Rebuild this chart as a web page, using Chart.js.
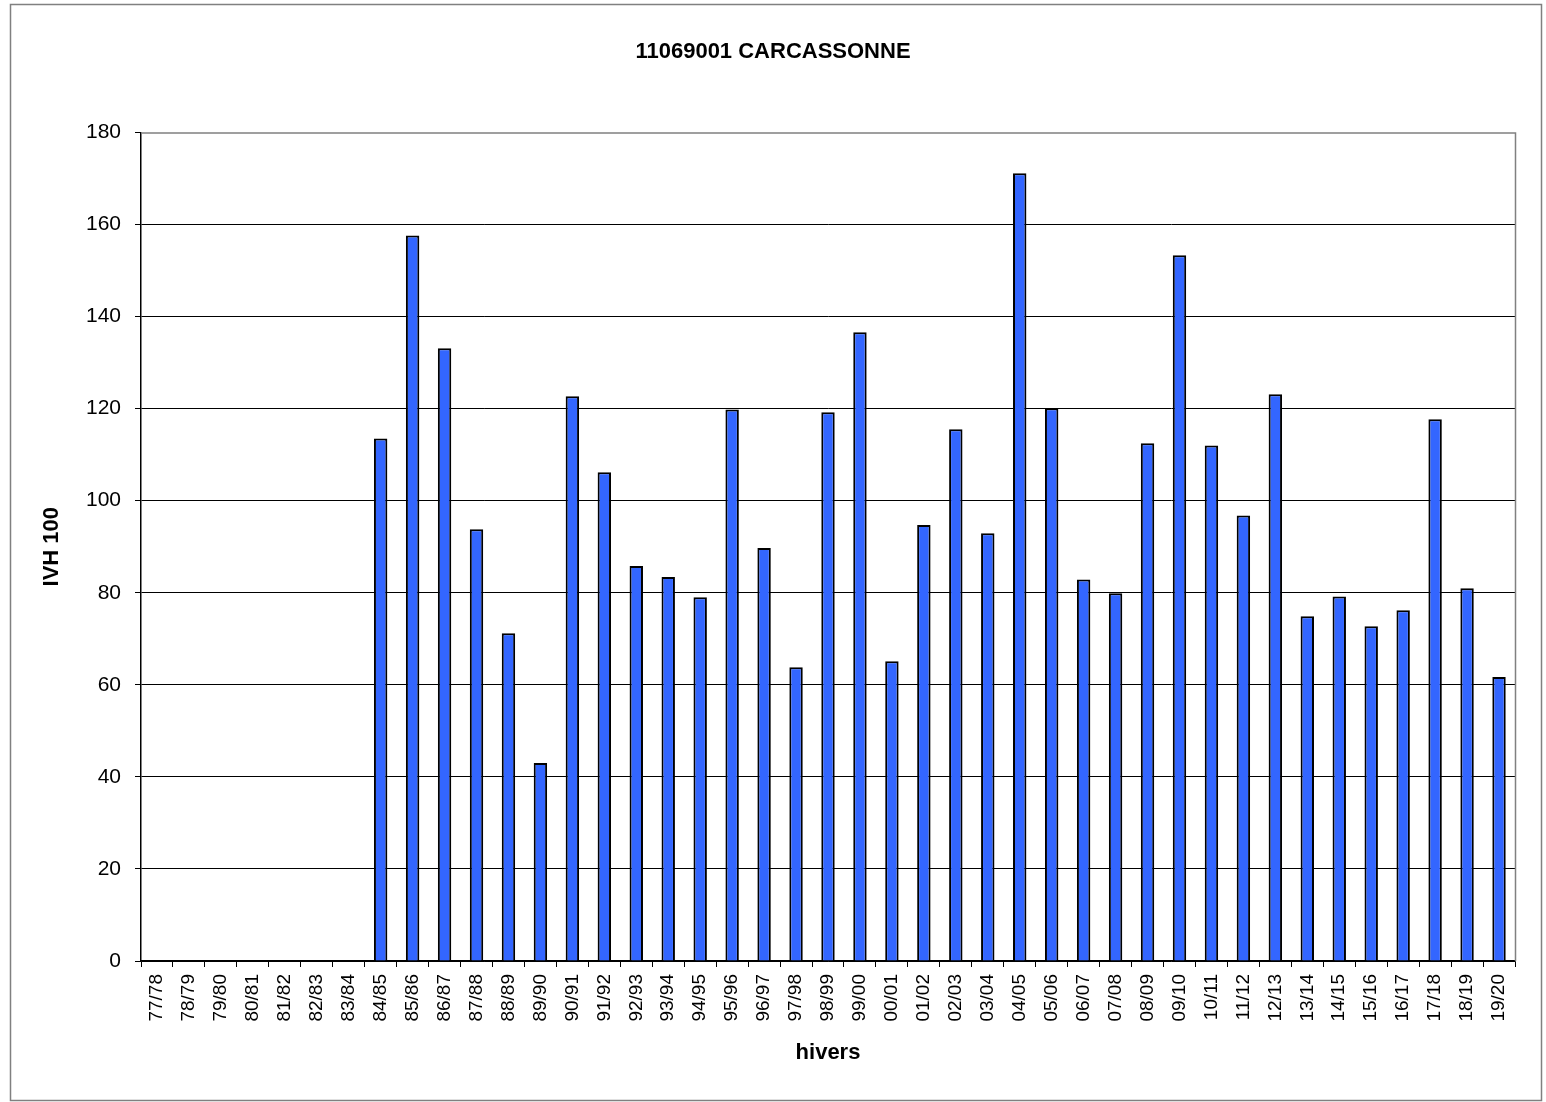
<!DOCTYPE html>
<html>
<head>
<meta charset="utf-8">
<script src="https://cdn.jsdelivr.net/npm/chart.js@4"></script>
<style>
  html, body { margin: 0; padding: 0; background: #fff; }
  #wrap { width: 1546px; height: 1102px; }
</style>
</head>
<body>
<div id="wrap"><canvas id="chart" width="1546" height="1102"></canvas></div>
<script>
const winters = [
  '77/78', '78/79', '79/80', '80/81', '81/82', '82/83', '83/84', '84/85', '85/86', '86/87',
  '87/88', '88/89', '89/90', '90/91', '91/92', '92/93', '93/94', '94/95', '95/96', '96/97',
  '97/98', '98/99', '99/00', '00/01', '01/02', '02/03', '03/04', '04/05', '05/06', '06/07',
  '07/08', '08/09', '09/10', '10/11', '11/12', '12/13', '13/14', '14/15', '15/16', '16/17',
  '17/18', '18/19', '19/20',
];

const ivhValues = [
  null, null, null, null, null, null, null, 113.5, 157.6, 133.1,
  93.8, 71.2, 43.0, 122.7, 106.2, 85.8, 83.4, 79.0, 119.8, 89.7,
  63.8, 119.2, 136.6, 65.1, 94.7, 115.5, 92.9, 171.1, 120.1, 82.9,
  79.9, 112.5, 153.3, 112.0, 96.8, 123.1, 74.9, 79.2, 72.7, 76.2,
  117.7, 81.0, 61.7,
];

const yMax = 180;
const yStep = 20;

Chart.defaults.font.family = '"Liberation Sans", Arial, sans-serif';
Chart.defaults.color = '#000';

// outer frame plus the grey top/right edges of the plot area
const framePlugin = {
  id: 'frame',
  afterDraw(chart) {
    const { ctx, chartArea } = chart;
    ctx.save();
    ctx.strokeStyle = '#808080';
    ctx.lineWidth = 1.5;
    ctx.strokeRect(10.5, 4.5, 1531, 1096);
    ctx.beginPath();
    ctx.moveTo(chartArea.left, chartArea.top + 0.5);
    ctx.lineTo(chartArea.right + 0.5, chartArea.top + 0.5);
    ctx.lineTo(chartArea.right + 0.5, chartArea.bottom);
    ctx.stroke();
    ctx.restore();
  },
};

const ctx = document.getElementById('chart').getContext('2d');

// eslint-disable-next-line no-unused-vars
const myChart = new Chart(ctx, {
  type: 'bar',
  data: {
    labels: winters,
    datasets: [{
      label: 'IVH 100',
      data: ivhValues,
      backgroundColor: '#3366FF',
      borderColor: '#000',
      borderWidth: 2,
      barPercentage: 0.42,
      categoryPercentage: 1,
    }],
  },
  options: {
    responsive: false,
    animation: false,
    layout: { padding: { left: 31, right: 31, top: 0, bottom: 0 } },
    plugins: {
      legend: { display: false },
      tooltip: { enabled: false },
      title: {
        display: true,
        text: '11069001 CARCASSONNE',
        font: { size: 22, weight: 'bold' },
        color: '#000',
        padding: { top: 39, bottom: 67 },
      },
    },
    scales: {
      x: {
        afterFit(scale) { scale.height = 141; },
        grid: {
          offset: true,
          drawOnChartArea: false,
          color: '#000',
          tickLength: 6,
          lineWidth: 1,
        },
        border: { color: '#000', width: 1.5 },
        ticks: {
          minRotation: 90,
          maxRotation: 90,
          autoSkip: false,
          padding: 7,
          font: { size: 19 },
        },
        title: {
          display: true,
          text: 'hivers',
          font: { size: 22, weight: 'bold' },
          padding: { top: 36, bottom: 36 },
        },
      },
      y: {
        min: 0,
        max: yMax,
        afterFit(scale) { scale.width = 110; },
        grid: {
          color: (c) => (c.tick && c.tick.value === yMax ? 'rgba(0,0,0,0)' : '#000'),
          tickColor: '#000',
          tickLength: 6,
          lineWidth: 1,
        },
        border: { color: '#000', width: 1.5 },
        ticks: {
          stepSize: yStep,
          padding: 14,
          font: { size: 21 },
        },
        title: {
          display: true,
          text: 'IVH 100',
          font: { size: 22, weight: 'bold' },
          padding: { top: 8, bottom: 8 },
        },
      },
    },
  },
  plugins: [framePlugin],
});
</script>
</body>
</html>
